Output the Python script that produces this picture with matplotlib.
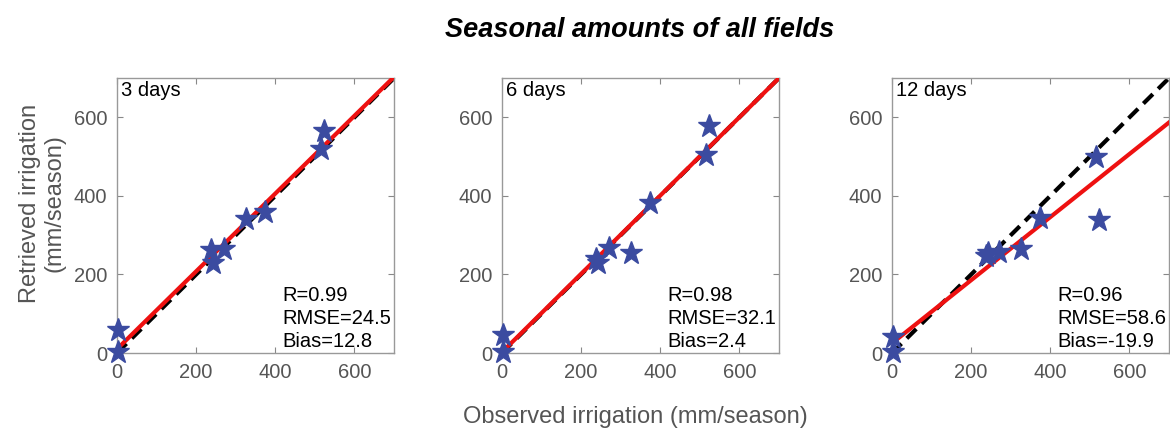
import numpy as np
import matplotlib
matplotlib.use("Agg")
import matplotlib.pyplot as plt

plt.rcParams['font.family'] = ['Liberation Sans', 'DejaVu Sans']

# observed seasonal irrigation (mm/season), shared by all panels
observed = [2, 2, 238, 242, 270, 326, 375, 515, 524]

# retrieved irrigation for each revisit interval
retrieved_3d = [59, 3, 262, 228, 265, 342, 359, 520, 564]
retrieved_6d = [45, 3, 240, 229, 268, 255, 382, 504, 578]
retrieved_12d = [41, 3, 248, 254, 258, 265, 345, 500, 339]

# fitted line end values (y at x=0 and at x=700)
fit_3d = [10, 703]
fit_6d = [2, 700]
fit_12d = [25, 587]

labels = ["3 days", "6 days", "12 days"]
stats = [("0.99", "24.5", "12.8"), ("0.98", "32.1", "2.4"), ("0.96", "58.6", "-19.9")]
ticks = [0, 200, 400, 600]

panels = [retrieved_3d, retrieved_6d, retrieved_12d]
fits = [fit_3d, fit_6d, fit_12d]

fig = plt.figure(figsize=(11.7, 4.3), dpi=100)
lefts = [0.100, 0.429, 0.7624]
grey = "#555555"

for i in range(3):
    ax = fig.add_axes([lefts[i], 0.179, 0.2368, 0.6395])
    ax.plot([0, 700], [0, 700], color="black", lw=3, ls=(0, (3.2, 1.8)), zorder=2)
    ax.plot([0, 700], fits[i], color="#ee1111", lw=3, zorder=3)
    ax.plot(observed, panels[i], ls="none", marker="*", ms=17,
            color="#3b4ba0", mec="#3b4ba0", zorder=4, clip_on=False)
    ax.set_xlim(0, 700)
    ax.set_ylim(0, 700)
    ax.set_xticks(ticks)
    ax.set_yticks(ticks)
    ax.tick_params(direction="in", top=True, right=True, length=4,
                   color="#888888", labelsize=14.5, labelcolor=grey, pad=7)
    for sp in ax.spines.values():
        sp.set_color("#999999")
        sp.set_linewidth(1)
    ax.text(10, 693, labels[i], fontsize=14.5, va="top", ha="left")
    r, rmse, bias = stats[i]
    ax.text(418, 6, "R=%s\nRMSE=%s\nBias=%s" % (r, rmse, bias), fontsize=14.5,
            va="bottom", ha="left", linespacing=1.25)
    if i == 0:
        ax.set_ylabel("Retrieved irrigation\n(mm/season)", fontsize=17,
                      color=grey, labelpad=6, linespacing=1.15)
        ax.yaxis.label.set_y(0.545)

fig.text(0.547, 0.93, "Seasonal amounts of all fields", fontsize=19.5,
         fontweight="bold", fontstyle="italic", ha="center", va="center")
fig.text(0.543, 0.03, "Observed irrigation (mm/season)", fontsize=17,
         color=grey, ha="center", va="center")

fig.savefig("out.png", dpi=100)
